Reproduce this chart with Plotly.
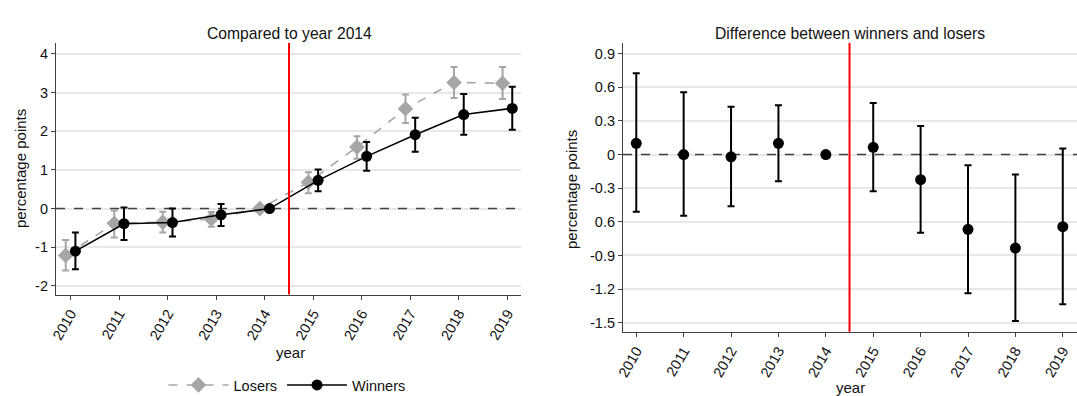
import plotly.graph_objects as go

# Event-study estimates by year
years = [2010, 2011, 2012, 2013, 2014, 2015, 2016, 2017, 2018, 2019]

# Left panel: change relative to 2014, by group
winners = [-1.10, -0.39, -0.36, -0.16, 0.0, 0.73, 1.35, 1.91, 2.43, 2.59]
winners_lo = [-1.57, -0.81, -0.72, -0.45, 0.0, 0.45, 0.98, 1.47, 1.91, 2.04]
winners_hi = [-0.62, 0.03, 0.00, 0.12, 0.0, 1.01, 1.72, 2.35, 2.96, 3.15]

losers = [-1.21, -0.38, -0.35, -0.27, 0.0, 0.68, 1.59, 2.58, 3.26, 3.24]
losers_lo = [-1.60, -0.75, -0.62, -0.47, 0.0, 0.40, 1.29, 2.21, 2.86, 2.83]
losers_hi = [-0.81, -0.05, -0.08, -0.09, 0.0, 0.94, 1.87, 2.95, 3.66, 3.66]

# Right panel: winners minus losers
diff = [0.10, 0.0, -0.02, 0.10, 0.0, 0.065, -0.224, -0.667, -0.834, -0.643]
diff_lo = [-0.51, -0.545, -0.462, -0.239, 0.0, -0.328, -0.697, -1.238, -1.485, -1.336]
diff_hi = [0.725, 0.555, 0.427, 0.439, 0.0, 0.46, 0.255, -0.096, -0.177, 0.055]

left_ticks = [-2, -1, 0, 1, 2, 3, 4]
left_ticktext = ["-2", "-1", "0", "1", "2", "3", "4"]
right_ticks = [-1.5, -1.2, -0.9, -0.6, -0.3, 0, 0.3, 0.6, 0.9]
right_ticktext = ["-1.5", "-1.2", "-0.9", "0.6", "-0.3", "0", "0.3", "0.6", "0.9"]

W, H = 1077, 396
FONT = "Liberation Sans, Arial, sans-serif"
GREY = "#a6a6a6"
AXIS = "#404040"
GRID = "#e8e8e8"
TXT = "#111111"

X_RANGE_L = [2009.70, 2019.28]
X_RANGE_R = [2009.72, 2019.30]


def err(center, lo, hi):
    return dict(
        type="data",
        symmetric=False,
        array=[h - c for c, h in zip(center, hi)],
        arrayminus=[c - l for c, l in zip(center, lo)],
        thickness=2,
        width=3.5,
    )


fig = go.Figure()

# Dashed zero reference lines, drawn first so markers sit on top
zero_line = dict(color=AXIS, width=1.5, dash="dash")
fig.add_trace(go.Scatter(x=X_RANGE_L, y=[0, 0], mode="lines", line=zero_line,
                         showlegend=False, hoverinfo="skip", xaxis="x", yaxis="y"))
fig.add_trace(go.Scatter(x=X_RANGE_R, y=[0, 0], mode="lines", line=zero_line,
                         showlegend=False, hoverinfo="skip", xaxis="x2", yaxis="y2"))

fig.add_trace(go.Scatter(
    x=[y - 0.1 for y in years], y=losers, name="Losers",
    mode="lines+markers",
    line=dict(color=GREY, width=1.6, dash="dash"),
    marker=dict(symbol="diamond", size=12, color=GREY),
    error_y=dict(err(losers, losers_lo, losers_hi), color=GREY),
    xaxis="x", yaxis="y",
))
fig.add_trace(go.Scatter(
    x=[y + 0.1 for y in years], y=winners, name="Winners",
    mode="lines+markers",
    line=dict(color="black", width=1.6),
    marker=dict(symbol="circle", size=11, color="black"),
    error_y=dict(err(winners, winners_lo, winners_hi), color="black"),
    xaxis="x", yaxis="y",
))
fig.add_trace(go.Scatter(
    x=years, y=diff, name="Difference", showlegend=False,
    mode="markers",
    marker=dict(symbol="circle", size=11, color="black"),
    error_y=dict(err(diff, diff_lo, diff_hi), color="black"),
    xaxis="x2", yaxis="y2",
))

axis_common = dict(
    showline=True, linecolor=AXIS, linewidth=1.2,
    ticks="outside", ticklen=4, tickcolor=AXIS,
    tickfont=dict(family=FONT, size=14.5, color=TXT),
    zeroline=False, automargin=False,
)

fig.update_layout(
    width=W, height=H,
    margin=dict(l=0, r=0, t=0, b=0, autoexpand=False),
    paper_bgcolor="white", plot_bgcolor="white",
    font=dict(family=FONT, color=TXT),
    xaxis=dict(axis_common, domain=[56 / W, 521 / W], range=X_RANGE_L,
               tickvals=years, ticktext=[str(y) for y in years], tickangle=-60,
               showgrid=False, anchor="y"),
    yaxis=dict(axis_common, domain=[(H - 294.5) / H, (H - 43) / H], range=[-2.22, 4.28],
               tickvals=left_ticks, ticktext=left_ticktext,
               showgrid=True, gridcolor=GRID, gridwidth=1.5, anchor="x"),
    xaxis2=dict(axis_common, domain=[623 / W, 1.0], range=X_RANGE_R,
                tickvals=years, ticktext=[str(y) for y in years], tickangle=-60,
                showgrid=False, anchor="y2"),
    yaxis2=dict(axis_common, domain=[(H - 331.7) / H, (H - 43) / H], range=[-1.58, 0.995],
                tickvals=right_ticks, ticktext=right_ticktext,
                showgrid=True, gridcolor=GRID, gridwidth=1.5, anchor="x2"),
    legend=dict(orientation="h", x=287 / W, y=(H - 385) / H, xanchor="center", yanchor="middle",
                font=dict(family=FONT, size=14.5, color=TXT), itemwidth=60),
    showlegend=True,
)

# Treatment line at the 2014/2015 boundary
for xr, yr in (("x", "y"), ("x2", "y2")):
    fig.add_shape(type="line", xref=xr, yref=f"{yr} domain", x0=2014.5, x1=2014.5, y0=0, y1=1,
                  line=dict(color="#ff0000", width=2), layer="above")

# Panel titles and axis titles
ann = [
    dict(text="Compared to year 2014", x=289.5 / W, y=(H - 33) / H, size=15.7, angle=0),
    dict(text="Difference between winners and losers", x=850 / W, y=(H - 33) / H, size=15.7, angle=0),
    dict(text="percentage points", x=20 / W, y=(H - 169) / H, size=15, angle=-90),
    dict(text="percentage points", x=571 / W, y=(H - 190) / H, size=15, angle=-90),
    dict(text="year", x=290 / W, y=(H - 352) / H, size=15, angle=0),
    dict(text="year", x=850 / W, y=(H - 387) / H, size=15, angle=0),
]
for a in ann:
    fig.add_annotation(text=a["text"], x=a["x"], y=a["y"], xref="paper", yref="paper",
                       showarrow=False, textangle=a["angle"], xanchor="center", yanchor="middle",
                       font=dict(family=FONT, size=a["size"], color=TXT))

fig.write_html("out.html")
